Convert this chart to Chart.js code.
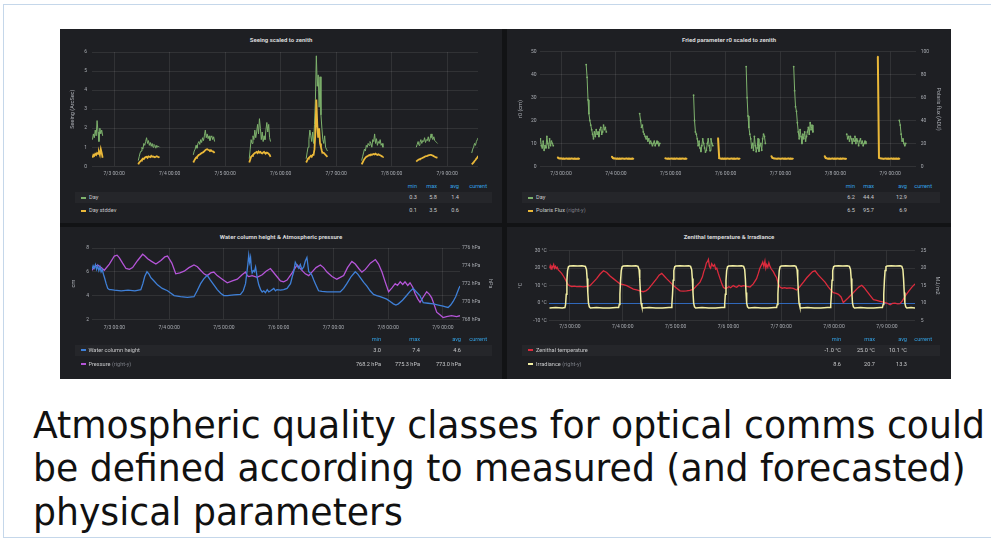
<!DOCTYPE html>
<html>
<head>
<meta charset="utf-8">
<script src="https://cdn.jsdelivr.net/npm/chart.js@4.4.1/dist/chart.umd.min.js"></script>
<style>
  html, body { margin:0; padding:0; width:991px; height:539px; overflow:hidden; background:#ffffff; }
  #frame { position:absolute; left:3px; top:4px; width:1010px; height:532px; border:1px solid #c5d7ea; border-right:none; }
  #dash { position:absolute; left:60px; top:29px; width:891px; height:350px; background:#121315; }
  .panel { position:absolute; background:#1e1f23; }
  .ptitle { position:absolute; text-align:center; font:bold 6px Roboto, "DejaVu Sans", sans-serif; color:#d8d9da; line-height:8px; white-space:nowrap; }
  canvas { position:absolute; }
  .lg { position:absolute; font:5.6px Roboto, "DejaVu Sans", sans-serif; line-height:7px; color:#c7c8ca; white-space:nowrap; }
  .hd { color:#33a2e5; }
  .dim { color:#7b7e85; }
  .band { position:absolute; height:11px; background:rgba(255,255,255,0.035); }
  .mk { position:absolute; width:5px; height:2px; }
  .slide { position:absolute; left:33px; font-family:"DejaVu Sans Condensed","DejaVu Sans",sans-serif; font-stretch:condensed; font-size:37px; line-height:37px; color:#111111; white-space:nowrap; transform-origin:0 0; }
</style>
</head>
<body>
<div id="frame"></div>
<div id="dash"></div>
<div class="panel" style="left:60px;top:29px;width:442px;height:194px"></div>
<div class="panel" style="left:507px;top:29px;width:444px;height:194px"></div>
<div class="panel" style="left:60px;top:227px;width:442px;height:152px"></div>
<div class="panel" style="left:507px;top:227px;width:444px;height:152px"></div>

<canvas id="cSeeing"></canvas>
<canvas id="cFried"></canvas>
<canvas id="cWater"></canvas>
<canvas id="cTemp"></canvas>
<div id="overlay"></div>

<div class="slide" id="line1" style="top:407px">Atmospheric quality classes for optical comms could</div>
<div class="slide" id="line2" style="top:450px">be defined according to measured (and forecasted)</div>
<div class="slide" id="line3" style="top:494px">physical parameters</div>

<script>
// ---------- time axis: hours from 7/3 00:00 ----------
const dayTicks = [0, 24, 48, 72, 96, 120, 144];
const dayLabels = ['7/3 00:00', '7/4 00:00', '7/5 00:00', '7/6 00:00', '7/7 00:00', '7/8 00:00', '7/9 00:00'];

// ---------- Seeing scaled to zenith (arcsec), one block per night, 0.4 h sampling ----------
const seeingStarts = [-9.4, 10.4, 34.2, 58.4, 83.0, 107.0, 130.6, 154.6];
const seeingDay = [
  [1.4,1.7,1.5,1.9,1.6,2.4,1.8,1.3,2.0,1.7,1.9,1.6],
  [0.3,0.5,0.7,0.8,1.0,0.9,1.2,1.1,1.3,1.5,1.2,1.35,1.1,1.25,1.05,1.2,1.0,1.15,1.1,0.95,1.1,1.0,1.05,1.0],
  [0.6,0.8,0.9,1.1,0.95,1.2,1.3,1.15,1.4,1.25,1.5,1.35,1.6,1.9,1.5,1.7,1.45,1.6,1.35,1.5,1.6,1.4,1.55,1.3],
  [0.4,0.9,1.4,1.2,1.6,1.4,1.9,1.5,1.8,2.2,1.7,2.5,2.0,1.4,1.8,1.3,1.6,1.4,1.9,2.3,1.8,2.2,1.5,1.3],
  [0.4,0.7,1.0,1.4,1.9,1.6,1.3,1.8,1.2,2.2,3.5,5.8,4.2,4.8,3.1,4.7,2.7,2.0,1.4,1.2,1.6,1.0,0.9,0.8],
  [0.3,0.5,0.7,0.9,0.8,1.1,1.0,1.2,1.1,1.3,1.2,1.0,1.4,1.3,1.7,1.2,1.45,1.1,1.3,1.2,1.4,1.1,1.2,1.0],
  [1.0,1.15,1.3,1.1,1.25,1.4,1.2,1.35,1.3,1.5,1.25,1.4,1.35,1.55,1.3,1.45,1.7,1.5,1.4,1.55,1.35,1.3,1.25,1.2],
  [0.7,0.9,1.0,1.2,1.1,1.3,1.4,1.5]
];
const seeingStd = [
  [0.45,0.6,0.55,0.65,0.6,0.7,0.65,0.75,0.6,0.9,0.7,0.45],
  [0.1,0.2,0.25,0.3,0.35,0.4,0.38,0.45,0.48,0.5,0.45,0.52,0.5,0.48,0.55,0.5,0.52,0.5,0.48,0.5,0.53,0.5,0.48,0.5],
  [0.2,0.3,0.38,0.45,0.5,0.55,0.6,0.62,0.66,0.7,0.72,0.75,0.8,0.85,0.88,0.9,0.87,0.85,0.82,0.85,0.8,0.78,0.76,0.7],
  [0.2,0.35,0.5,0.55,0.6,0.65,0.7,0.72,0.75,0.7,0.78,0.72,0.75,0.7,0.68,0.72,0.75,0.7,0.68,0.72,0.7,0.65,0.6,0.5],
  [0.2,0.3,0.4,0.45,0.5,0.55,0.5,0.6,0.6,0.9,1.8,3.5,2.2,1.5,2.0,1.2,1.0,0.8,0.7,0.7,0.65,0.6,0.55,0.5],
  [0.1,0.2,0.3,0.38,0.45,0.5,0.52,0.55,0.58,0.6,0.62,0.6,0.63,0.65,0.62,0.66,0.62,0.6,0.63,0.6,0.58,0.55,0.52,0.5],
  [0.25,0.3,0.33,0.36,0.38,0.4,0.42,0.45,0.47,0.5,0.52,0.54,0.55,0.57,0.58,0.6,0.6,0.58,0.56,0.53,0.5,0.48,0.46,0.45],
  [0.1,0.15,0.2,0.28,0.33,0.4,0.45,0.55]
];

// ---------- Fried parameter r0 (cm), 0.4 h sampling ----------
const friedStarts = [-9.4, 11.0, 34.4, 58.0, 81.0, 101.8, 125.0, 148.0];
const friedDay = [
  [10,12,9,8,11,7,9,8,13,10,8,12,9,11,10,9],
  [44.4,38.8,29,23,20,18,16,14,12,15,13,16,14,15,13,16,17,14,15,18,16,17,15],
  [23,20,17,18,15,14,13,12,13,11,12,10,11,10,9,10,11,9,10,11,10,9,10],
  [31,20,15,14,12,9,11,8,6.5,9,12,10,8,6.2,7,10,12,9,6.8,12,10,9],
  [43.5,30,22,17,14,12,8,10,7,13,9,6.4,8,12,6.6,9,10,7,12,14,13,10],
  [43.5,33,26,24,19,15,12,16,13,10,14,12,15,11,13,15,17,14,19,16,18,15],
  [14,12,13,11,13,12,10,12,11,13,10,12,11,9,11,12,10,11,9,10,11,10],
  [20,18,14,11,12,10,9,10]
];
// Polaris flux (ADU, right axis), 0.5 h sampling
const polarisStarts = [-1.5, 22.2, 45.5, 68.7, 92.0, 115.3, 138.6];
const polarisFlux = [
  [7.8,7.0,6.8,6.9,6.7,6.8,6.6,6.7,6.8,6.6,6.7,6.6,6.8,6.7,6.6,6.7,6.5,6.6,6.7,6.6],
  [8.6,7.2,6.9,6.8,6.7,6.8,6.6,6.7,6.6,6.8,6.7,6.6,6.7,6.8,6.6,6.7,6.6,6.5,6.7,6.6],
  [7.0,6.8,6.7,6.8,6.6,6.7,6.8,6.6,6.7,6.6,6.8,6.7,6.6,6.7,6.6,6.8,6.7,6.6,6.7,6.6],
  [24.6,7.1,6.8,6.7,6.8,6.6,6.7,6.6,6.8,6.7,6.6,6.7,6.8,6.6,6.7,6.6,6.7,6.8,6.6,6.7],
  [9.0,7.3,6.9,6.8,6.7,6.6,6.8,6.7,6.6,6.7,6.8,6.6,6.7,6.6,6.7,6.8,6.6,6.7,6.6,6.7],
  [9.0,7.2,6.9,6.7,6.8,6.6,6.7,6.8,6.6,6.7,6.6,6.8,6.7,6.6,6.7,6.6,6.8,6.7,6.6,6.6],
  [95.7,7.4,6.9,6.8,6.7,6.6,6.7,6.8,6.6,6.7,6.6,6.7,6.8,6.6,6.7,6.6,6.7,6.6,6.7,6.6]
];

// ---------- Water column height (cm) : [hour, value] ----------
const waterHeight = [
  [-9.8,6.2],[-9.3,6.5],[-8.8,6.3],[-8.3,6.6],[-7.8,6.2],[-7.3,6.5],[-6.8,6.1],[-6.3,6.4],[-5.8,6.0],[-5.3,6.2],
  [-4.8,5.8],[-4.3,5.5],[-3.6,5.0],[-2.9,4.6],[-2.2,4.5],[-1.5,4.5],[0,4.45],[3,4.4],[6,4.45],[9,4.4],
  [11.6,4.5],[12.5,5.0],[13.3,5.6],[14.3,6.0],[15.2,5.8],[16,5.5],[17.5,5.2],[18.9,4.9],[21,4.6],[23.3,4.4],
  [24.8,4.2],[26.2,4.0],[29,3.9],[32,3.85],[34.9,3.9],[36.3,4.4],[37.8,5.0],[39.2,5.4],[40.7,5.7],[42.1,5.3],
  [43.6,4.9],[45.1,4.5],[46.6,4.2],[48,4.0],[49.5,4.0],[52.4,4.05],[55.3,4.1],[56.5,4.4],[57.5,5.0],[58.0,5.8],
  [58.5,6.6],[58.9,7.4],[59.3,6.8],[59.7,7.2],[60.1,6.2],[60.4,5.9],[60.9,6.1],[61.4,6.0],[61.9,6.4],[62.3,5.9],
  [62.6,5.5],[63.3,4.9],[64.1,4.5],[64.8,4.3],[65.5,4.4],[66.2,4.25],[67,4.5],[67.7,4.3],[68.5,4.4],[69.9,4.6],
  [70.6,4.4],[71.3,4.5],[72.8,4.45],[74.2,4.5],[75.7,4.6],[77.2,5.0],[78,5.6],[78.6,6.0],[79.3,6.8],[80.1,6.5],
  [80.8,6.3],[81.5,6.6],[82.2,6.2],[83,6.4],[83.7,6.9],[84.4,7.2],[85.2,6.0],[85.9,5.9],[86.6,5.7],[87.4,5.3],
  [88.1,5.0],[88.8,4.7],[89.5,4.4],[91,4.35],[93.2,4.3],[96.1,4.3],[99,4.3],[100.5,4.6],[101.9,5.0],[103.8,5.6],
  [105.6,6.0],[106.7,5.8],[107.8,5.5],[109.3,5.1],[110.7,4.8],[112.1,4.4],[113.6,4.1],[115,4.0],[116.5,3.9],[118,3.8],
  [119.4,3.7],[120.9,3.5],[122.3,3.3],[123.4,3.2],[124.5,3.3],[126.3,3.6],[128.1,4.0],[129.6,4.35],[131,4.6],[132.4,4.3],
  [133.9,4.0],[135.4,3.4],[137.5,3.35],[139.8,3.3],[142,3.2],[144.1,3.1],[145.2,3.05],[146.3,3.0],[147.4,3.2],[148.5,3.5],
  [149.6,3.9],[150.4,4.3],[151.0,4.6],[151.5,4.8]
];
// Atmospheric pressure (hPa, right axis)
const pressure = [
  [-9.8,773.5],[-8.6,773.9],[-7.3,774.1],[-5.8,773.8],[-4.4,773.5],[-2.2,774.2],[0,775.1],[1.2,775.2],[2.2,774.9],[3.6,774.3],
  [5.1,773.7],[6.6,773.6],[8.0,773.8],[10.2,774.6],[12.4,775.3],[13.4,775.1],[14.6,774.8],[16.3,774.5],[18.2,774.2],[20.4,774.6],
  [22.1,775.0],[23.3,775.1],[25.2,774.3],[26.9,773.1],[28.7,773.2],[30.6,773.4],[32.7,773.8],[34.9,774.1],[36.4,773.9],[37.8,773.5],
  [39.3,773.1],[40.7,772.9],[42.2,773.2],[43.6,773.3],[45.1,772.9],[47.3,772.5],[49.5,772.1],[51.7,772.3],[53.9,772.5],[56.0,773.0],
  [57.5,773.3],[58.2,772.9],[58.9,772.8],[60.4,772.9],[62.6,772.7],[64.8,773.0],[66.5,773.4],[68.4,773.7],[70.6,773.0],[72.8,772.3],
  [74.2,772.2],[75.7,772.4],[77.9,773.2],[80.1,774.1],[81.8,773.6],[83.7,773.1],[85.2,772.9],[86.6,773.3],[88.4,773.8],[90.3,774.1],
  [91.7,773.8],[93.2,773.3],[95.4,772.8],[97.5,772.5],[99.0,772.7],[100.5,772.9],[102.2,773.8],[104.1,774.5],[105.6,774.2],[107.1,773.7],
  [108.5,773.3],[110.0,773.6],[112.2,774.3],[114.4,774.7],[115.8,774.2],[117.3,773.3],[118.7,772.2],[120.2,771.1],[121.6,771.5],[123.1,772.0],
  [124.1,771.8],[125.3,772.2],[126.4,771.9],[127.4,772.2],[128.6,771.8],[129.6,772.1],[130.8,771.6],[131.8,770.9],[133.0,770.3],[134.0,769.9],
  [135.4,770.5],[136.9,771.1],[138.1,770.8],[139.1,770.4],[140.1,769.7],[141.3,768.8],[142.7,768.5],[144.1,768.2],[145.6,768.3],[147.8,768.4],
  [150.0,768.3],[151.5,768.4]
];

// ---------- Zenithal temperature (°C) ----------
const zenithTemp = [
  [-9.4,20],[-9.0,21.5],[-8.6,19.5],[-8.2,21],[-7.8,20.5],[-7.4,22],[-7.0,20],[-6.6,21],[-6.2,19.8],[-5.8,20.5],
  [-5.3,19],[-4.5,18],[-3.8,17],[-3.0,15.5],[-2.3,14],[-1.5,12],[-0.8,10.5],[0,9.8],[0.8,9.5],[2,9.7],
  [3,9.4],[4.5,9.6],[6,9.3],[7.6,9.5],[9.1,10],[10.6,12],[12.1,14],[13.6,16.5],[15.2,18.5],[16.7,17.5],
  [18.2,15.5],[19.7,14],[21.2,12.5],[22.7,11],[24.2,10.5],[25.8,10],[27.3,9],[28.8,8],[30.3,7.5],[31.8,7],
  [33.3,6.5],[34.5,7],[35.6,8],[37.5,11],[39.4,14],[40.5,16],[41.7,17],[42.8,15.5],[43.9,14],[45.5,12],
  [47.0,10],[48.5,8.5],[50.0,7],[51.5,6.8],[53.0,7],[54.5,7.3],[56.1,8],[57.6,10],[59.1,12],[60.2,15],
  [60.8,18],[61.4,20],[62.0,23],[62.6,24],[62.9,25],[63.4,21],[63.9,20],[64.4,22.5],[65.1,21],[65.7,22],
  [66.2,19.5],[66.7,20],[67.4,17],[68.2,14],[69.0,11],[69.7,9],[70.5,8.3],[71.2,8.5],[72.2,9.5],[73.0,8.8],
  [74.2,10],[75.0,9.4],[75.8,9.0],[76.8,10.2],[77.8,9.5],[78.8,10],[80.3,9.5],[81.8,9.2],[83.3,11],[84.8,14],
  [85.6,17],[86.3,20],[87.1,22],[87.6,23.5],[88.1,21],[88.6,24],[89.0,20],[89.4,22],[89.9,20.5],[90.4,23],
  [90.9,21],[91.5,19.5],[92.4,18],[93.2,16],[93.9,14.5],[94.7,11],[95.5,9],[96.5,8.5],[97.5,8.8],[98.5,8.5],
  [100,8.7],[101.5,8.4],[103,7.5],[104.5,9.5],[106.1,12],[107.6,14.5],[109.1,16.5],[110.3,18],[111.4,18.5],[112.9,16],
  [114.4,14],[115.9,12],[117.2,9.5],[118.2,8],[119.7,6],[121,5.5],[122,5],[123.2,3.5],[124.2,0.3],[125.2,1.5],
  [126.5,3],[128.4,5.5],[130.3,8],[131.4,9.3],[132.6,10.2],[133.7,8.8],[134.8,7],[136.3,4.5],[137.9,2],[139.4,1.5],
  [140.9,1],[142.5,0.5],[144,0],[145.5,-1.0],[146.6,-0.2],[147.7,0],[148.9,-0.5],[150.0,-0.3],[151.2,1.5],[152.3,4],
  [153.8,6.5],[155.3,9],[156.8,11]
];
// Irradiance (right axis)
const irradiance = [
  [-9.4,8.6],[-6.5,8.7],[-3.5,8.6],[-2.3,8.7],[-2.0,9.6],[-1.7,12.5],[-1.4,16.5],[-1.1,19.3],[-0.7,20.4],[-0.2,20.6],
  [1.5,20.7],[3.5,20.6],[5.5,20.7],[7.0,20.5],[7.5,19.6],[7.8,17],[8.1,13],[8.4,10],[8.8,8.9],[9.3,8.6],
  [12,8.7],[15,8.6],[18,8.6],[21,8.7],
  [22.1,8.7],[22.4,9.6],[22.7,12.5],[23.0,16.5],[23.3,19.3],[23.7,20.4],[24.2,20.6],[26,20.7],[28,20.6],[30,20.7],
  [30.9,20.5],[31.4,19.6],[31.7,17],[32.0,13],[32.3,10],[32.7,8.9],[33.2,8.6],[36,8.7],[39,8.6],[42,8.6],[45,8.7],
  [46.0,8.7],[46.3,9.6],[46.6,12.5],[46.9,16.5],[47.2,19.3],[47.6,20.4],[48.1,20.6],[50,20.7],[52,20.6],[54,20.7],
  [54.8,20.5],[55.3,19.6],[55.6,17],[55.9,13],[56.2,10],[56.6,8.9],[57.1,8.6],[60,8.7],[63,8.6],[66,8.6],[69,8.7],
  [70.0,8.7],[70.3,9.6],[70.6,12.5],[70.9,16.5],[71.2,19.3],[71.6,20.4],[72.1,20.6],[74,20.7],[76,20.6],[78,20.7],
  [78.9,20.5],[79.4,19.6],[79.7,17],[80.0,13],[80.3,10],[80.7,8.9],[81.2,8.6],[84,8.7],[87,8.6],[90,8.6],[93,8.7],
  [93.9,8.7],[94.2,9.6],[94.5,12.5],[94.8,16.5],[95.1,19.3],[95.5,20.4],[96,20.6],[98,20.7],[100,20.6],[102,20.7],
  [102.7,20.5],[103.2,19.6],[103.5,17],[103.8,13],[104.1,10],[104.5,8.9],[105,8.6],[108,8.7],[111,8.6],[114,8.6],[117,8.7],
  [118.2,8.7],[118.5,9.6],[118.8,12.5],[119.1,16.5],[119.4,19.3],[119.8,20.4],[120.3,20.6],[122,20.7],[124,20.6],[126,20.7],
  [127,20.5],[127.5,19.6],[127.8,17],[128.1,13],[128.4,10],[128.8,8.9],[129.3,8.6],[132,8.7],[135,8.6],[138,8.6],[141,8.7],
  [142.0,8.7],[142.3,9.6],[142.6,12.5],[142.9,16.5],[143.2,19.3],[143.6,20.4],[144.1,20.6],[146,20.7],[148,20.6],[150,20.7],
  [150.8,20.5],[151.3,19.6],[151.6,17],[151.9,13],[152.2,10],[152.6,8.9],[153.1,8.6],[155,8.7],[156.8,8.6]
];

// ---------- legend statistics (min, max, avg, current) ----------
const seeingStats  = [['0.3','5.8','1.4',''], ['0.1','3.5','0.6','']];
const friedStats   = [['6.2','44.4','12.9',''], ['6.5','95.7','6.9','']];
const waterStats   = [['3.0','7.4','4.6',''], ['768.2 hPa','775.3 hPa','773.0 hPa','']];
const tempStats    = [['-1.0 °C','25.0 °C','10.1 °C',''], ['8.6','20.7','13.3','']];

// ---------- styling ----------
const COL = { green:'#7eb26d', orange:'#eab839', blue:'#3f80d8', purple:'#b555d8', red:'#dc2b3d', pale:'#f3efa4' };
const TICK = '#a9acb2';
const GRID = 'rgba(255,255,255,0.085)';
const FONT = 'Roboto, "DejaVu Sans", sans-serif';
Chart.defaults.font.family = FONT;

function fromBlocks(starts, blocks, step) {
  const pts = [];
  blocks.forEach((vals, i) => {
    vals.forEach((v, j) => pts.push({ x: starts[i] + j * step, y: v }));
    pts.push({ x: starts[i] + vals.length * step, y: null });
  });
  return pts;
}
const fromPairs = arr => arr.map(p => ({ x: p[0], y: p[1] }));

function xAxis(min, max, height, pad) {
  return {
    type: 'linear', min, max,
    afterBuildTicks: s => { s.ticks = dayTicks.map(v => ({ value: v })); },
    afterFit: s => { s.height = height; },
    ticks: { autoSkip: false, maxRotation: 0, padding: pad, color: TICK, font: { size: 5 },
             callback: v => dayLabels[dayTicks.indexOf(v)] },
    grid: { color: GRID, drawTicks: false, lineWidth: 1 },
    border: { display: false }
  };
}
function yAxis(o) {
  return {
    type: 'linear', position: o.pos, min: o.min, max: o.max,
    afterFit: s => { s.width = o.width; },
    ticks: { stepSize: o.step, padding: o.pad, color: TICK, font: { size: 5 }, callback: o.fmt },
    grid: o.pos === 'left'
      ? { color: o.gridColor || GRID, drawTicks: false }
      : { drawOnChartArea: false, drawTicks: false },
    border: { display: false },
    title: { display: true, text: o.title, color: TICK, font: { size: 5.5 }, padding: { top: o.tpad, bottom: 0 } }
  };
}
function line(label, data, color, width, axis, point) {
  return { label, data, borderColor: color, backgroundColor: color, borderWidth: width,
           pointRadius: point || 0, pointBorderWidth: 0, tension: 0, spanGaps: false, yAxisID: axis || 'y' };
}
function makeChart(id, box, plot, scales, datasets, hasRight) {
  const cv = document.getElementById(id);
  cv.width = box.w; cv.height = box.h;
  cv.style.left = box.l + 'px'; cv.style.top = box.t + 'px';
  cv.style.width = box.w + 'px'; cv.style.height = box.h + 'px';
  return new Chart(cv, {
    type: 'line',
    data: { datasets },
    options: {
      responsive: false, animation: false, devicePixelRatio: 1,
      layout: { padding: { top: plot.t - box.t, right: hasRight ? 0 : box.l + box.w - plot.r, left: 0, bottom: 0 } },
      plugins: { legend: { display: false }, tooltip: { enabled: false } },
      scales
    }
  });
}

// Seeing scaled to zenith
makeChart('cSeeing', { l: 60, t: 44, w: 442, h: 137 }, { l: 92, t: 51.3, r: 478, b: 166.3 }, {
  x: xAxis(-9.6, 157.3, 14.7, 4.4),
  y: yAxis({ pos: 'left', min: 0, max: 6, step: 1, width: 32, pad: 5, title: 'Seeing (ArcSec)', tpad: 9.4, fmt: v => v })
}, [
  line('Day stddev', fromBlocks(seeingStarts, seeingStd, 0.4), COL.orange, 1.8),
  line('Day', fromBlocks(seeingStarts, seeingDay, 0.4), COL.green, 1)
]);

// Fried parameter r0 scaled to zenith
makeChart('cFried', { l: 507, t: 44, w: 444, h: 137 }, { l: 540, t: 51.3, r: 916, b: 166.3 }, {
  x: xAxis(-9.2, 155.3, 14.7, 4.4),
  y: yAxis({ pos: 'left', min: 0, max: 50, step: 10, width: 33, pad: 3.5, title: 'r0 (cm)', tpad: 10.7, fmt: v => v }),
  y2: yAxis({ pos: 'right', min: 0, max: 100, step: 20, width: 35, pad: 4.7, title: 'Polaris flux (ADU)', tpad: 9.7, fmt: v => v })
}, [
  line('Day', fromBlocks(friedStarts, friedDay, 0.4), COL.green, 1, 'y', 0.9),
  line('Polaris Flux', fromBlocks(polarisStarts, polarisFlux, 0.5), COL.orange, 2, 'y2', 0.8)
], true);

// Water column height & Atmospheric pressure
makeChart('cWater', { l: 60, t: 242, w: 442, h: 95 }, { l: 92, t: 247.7, r: 460, b: 319.3 }, {
  x: xAxis(-9.8, 151.5, 17.7, 5.7),
  y: yAxis({ pos: 'left', min: 2, max: 8, step: 2, width: 32, pad: 3, title: 'cm', tpad: 10, fmt: v => v }),
  y2: yAxis({ pos: 'right', min: 768, max: 776, step: 2, width: 42, pad: 2, title: 'hPa', tpad: 8.7, fmt: v => v + ' hPa' })
}, [
  line('Water column height', fromPairs(waterHeight), COL.blue, 1.3),
  line('Pressure', fromPairs(pressure), COL.purple, 1.3, 'y2')
], true);

// Zenithal temperature & Irradiance
makeChart('cTemp', { l: 507, t: 242, w: 444, h: 95 }, { l: 549.3, t: 247.5, r: 915, b: 320.5 }, {
  x: xAxis(-9.4, 156.8, 16.5, 3.5),
  y: yAxis({ pos: 'left', min: -10, max: 30, step: 10, width: 42.3, pad: 2.6, title: '°C', tpad: 10.4,
             fmt: v => v + ' °C', gridColor: c => c.tick && c.tick.value === 0 ? 'rgba(52,118,214,0.85)' : GRID }),
  y2: yAxis({ pos: 'right', min: 5, max: 25, step: 5, width: 36, pad: 5.7, title: 'MJ/m2', tpad: 10.7, fmt: v => v })
}, [
  line('Irradiance', fromPairs(irradiance), COL.pale, 1.5, 'y2'),
  line('Zenithal temperature', fromPairs(zenithTemp), COL.red, 1.3)
], true);

// ---------- panel titles and legend tables ----------
const overlay = document.getElementById('overlay');
function put(cls, text, x, y, align, extra) {
  const d = document.createElement('div');
  d.className = cls;
  d.innerHTML = text;
  d.style.top = (y - 3.5) + 'px';
  if (align === 'right') { d.style.right = (991 - x) + 'px'; }
  else if (align === 'center') { d.style.left = (x - 40) + 'px'; d.style.width = '80px'; d.style.textAlign = 'center'; }
  else { d.style.left = x + 'px'; }
  if (extra) Object.assign(d.style, extra);
  overlay.appendChild(d);
  return d;
}
function title(text, cx, cy) {
  const d = document.createElement('div');
  d.className = 'ptitle';
  d.textContent = text;
  d.style.left = (cx - 150) + 'px'; d.style.width = '300px'; d.style.top = (cy - 4) + 'px';
  overlay.appendChild(d);
}
function legend(p, names, colors, stats) {
  const band = document.createElement('div');
  band.className = 'band';
  Object.assign(band.style, { left: p.x0 + 'px', width: (p.x1 - p.x0) + 'px', top: (p.rows[0] - 5.5) + 'px' });
  overlay.appendChild(band);
  ['min', 'max', 'avg', 'current'].forEach((h, i) => put('lg hd', h, p.cols[i], p.head, 'right'));
  names.forEach((n, r) => {
    const mk = document.createElement('div');
    mk.className = 'mk';
    Object.assign(mk.style, { left: p.mk + 'px', top: (p.rows[r] - 1) + 'px', background: colors[r] });
    overlay.appendChild(mk);
    put('lg', n, p.mk + 8, p.rows[r], 'left');
    stats[r].forEach((s, i) => { if (s) put('lg', s, p.cols[i], p.rows[r], 'right'); });
  });
}

title('Seeing scaled to zenith', 281, 40.3);
title('Fried parameter r0 scaled to zenith', 729, 40.3);
title('Water column height & Atmospheric pressure', 281, 236.7);
title('Zenithal temperature & Irradiance', 729, 236.7);

legend({ head: 186.3, rows: [197.7, 210.7], cols: [417, 437, 459, 487], mk: 81, x0: 75, x1: 492 },
  ['Day', 'Day stddev'], [COL.green, COL.orange], seeingStats);
legend({ head: 186.3, rows: [197.7, 210.7], cols: [855, 874, 907, 932], mk: 528, x0: 522, x1: 940 },
  ['Day', 'Polaris Flux <span class="dim">(right-y)</span>'], [COL.green, COL.orange], friedStats);
legend({ head: 339.3, rows: [350.3, 364], cols: [381, 420, 461, 487], mk: 80.5, x0: 75, x1: 492 },
  ['Water column height', 'Pressure <span class="dim">(right-y)</span>'], [COL.blue, COL.purple], waterStats);
legend({ head: 339.3, rows: [350.3, 364], cols: [841, 875, 907, 932], mk: 528, x0: 522, x1: 940 },
  ['Zenithal temperature', 'Irradiance <span class="dim">(right-y)</span>'], [COL.red, COL.pale], tempStats);

// ---------- slide caption: fit first line to its measured width ----------
function fitCaption() {
  const l1 = document.getElementById('line1');
  const w = l1.getBoundingClientRect().width;
  const k = 952 / w;
  ['line1', 'line2', 'line3'].forEach(id => { document.getElementById(id).style.transform = 'scaleX(' + k + ')'; });
}
if (document.fonts && document.fonts.ready) document.fonts.ready.then(fitCaption); else fitCaption();
</script>
</body>
</html>
